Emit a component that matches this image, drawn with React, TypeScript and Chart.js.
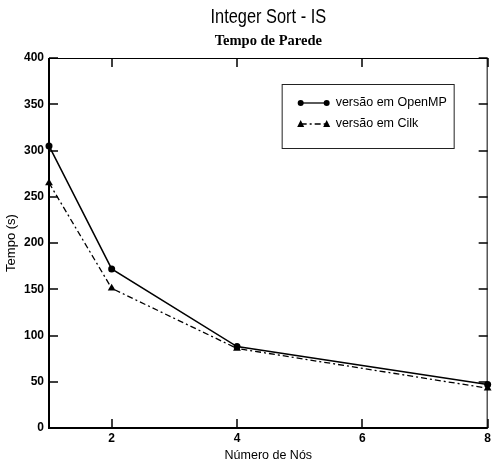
import React, { useEffect, useRef } from "react";
import { Chart, registerables } from "chart.js";

Chart.register(...registerables);

const nodes = [1, 2, 4, 8];
const openmpTimes = [305, 172, 88, 47];
const cilkTimes = [265, 151, 86, 43];
const xTickValues = [2, 4, 6, 8];
const yTickValues = [0, 50, 100, 150, 200, 250, 300, 350, 400];
const seriesLabels = ["versão em OpenMP", "versão em Cilk"];
const titleText = "Integer Sort - IS";
const subtitleText = "Tempo de Parede";
const xTitle = "Número de Nós";
const yTitle = "Tempo (s)";

const SANS = "'Liberation Sans', Arial, sans-serif";
const SERIF = "'Liberation Serif', 'Times New Roman', serif";

const framePlugin = {
  id: "frameAndLegend",
  afterDatasetsDraw(chart: any) {
    const ctx = chart.ctx;
    const { left, right, top, bottom } = chart.chartArea;
    const xs = chart.scales.x;
    const ys = chart.scales.y;
    ctx.save();
    ctx.strokeStyle = "#000";
    // frame
    ctx.lineWidth = 1;
    ctx.beginPath();
    ctx.moveTo(left, top + 0.5);
    ctx.lineTo(right, top + 0.5);
    ctx.moveTo(right - 0.5, top);
    ctx.lineTo(right - 0.5, bottom);
    ctx.stroke();
    ctx.lineWidth = 2;
    ctx.beginPath();
    ctx.moveTo(left, top);
    ctx.lineTo(left, bottom);
    ctx.lineTo(right, bottom);
    ctx.stroke();
    // ticks
    ctx.lineWidth = 1.5;
    ctx.beginPath();
    for (const v of xTickValues) {
      const px = Math.round(xs.getPixelForValue(v));
      ctx.moveTo(px, bottom);
      ctx.lineTo(px, bottom - 9);
      ctx.moveTo(px, top);
      ctx.lineTo(px, top + 9);
    }
    for (const v of yTickValues) {
      const py = Math.round(ys.getPixelForValue(v));
      ctx.moveTo(left, py);
      ctx.lineTo(left + 9, py);
      ctx.moveTo(right, py);
      ctx.lineTo(right - 9, py);
    }
    ctx.stroke();

    // titles
    const cx = (left + right) / 2;
    ctx.fillStyle = "#000";
    ctx.textAlign = "center";
    ctx.textBaseline = "middle";
    ctx.save();
    ctx.translate(cx, 17);
    ctx.scale(0.78, 1);
    ctx.font = `21px ${SANS}`;
    ctx.fillText(titleText, 0, 0);
    ctx.restore();
    ctx.font = `bold 14.5px ${SERIF}`;
    ctx.fillText(subtitleText, cx, 41);

    // legend
    const bx = right - 206;
    const by = top + 26;
    const bw = 172;
    const bh = 64;
    ctx.lineWidth = 1;
    ctx.strokeStyle = "#222";
    ctx.strokeRect(bx + 0.5, by + 0.5, bw, bh);
    const rows = [by + 19, by + 40];
    chart.data.datasets.forEach((ds: any, i: number) => {
      const y = rows[i];
      const x0 = bx + 19;
      const x1 = bx + 45;
      ctx.strokeStyle = "#000";
      ctx.lineWidth = 1.3;
      ctx.setLineDash(ds.borderDash || []);
      ctx.beginPath();
      ctx.moveTo(x0, y);
      ctx.lineTo(x1, y);
      ctx.stroke();
      ctx.setLineDash([]);
      ctx.fillStyle = "#000";
      for (const x of [x0, x1]) {
        if (ds.pointStyle === "triangle") {
          ctx.beginPath();
          ctx.moveTo(x, y - 4);
          ctx.lineTo(x + 3.5, y + 3);
          ctx.lineTo(x - 3.5, y + 3);
          ctx.closePath();
          ctx.fill();
        } else {
          ctx.beginPath();
          ctx.arc(x, y, 3, 0, Math.PI * 2);
          ctx.fill();
        }
      }
      ctx.textAlign = "left";
      ctx.font = `12.5px ${SANS}`;
      ctx.fillText(ds.label, bx + 54, y);
    });
    ctx.restore();
  },
};

export default function App() {
  const ref = useRef<HTMLCanvasElement | null>(null);
  useEffect(() => {
    if (!ref.current) return;
    const chart = new Chart(ref.current, {
      type: "line",
      data: {
        datasets: [
          {
            label: seriesLabels[0],
            data: nodes.map((n, i) => ({ x: n, y: openmpTimes[i] })),
            borderColor: "#000",
            backgroundColor: "#000",
            borderWidth: 1.5,
            pointStyle: "circle",
            pointRadius: 3.5,
            pointBackgroundColor: "#000",
            pointBorderWidth: 0,
            tension: 0,
            clip: false as any,
          },
          {
            label: seriesLabels[1],
            data: nodes.map((n, i) => ({ x: n, y: cilkTimes[i] })),
            borderColor: "#000",
            backgroundColor: "#000",
            borderWidth: 1.3,
            borderDash: [6, 3, 2, 3],
            pointStyle: "triangle",
            pointRadius: 4.5,
            pointBackgroundColor: "#000",
            pointBorderWidth: 0,
            tension: 0,
            clip: false as any,
          },
        ],
      },
      options: {
        animation: false,
        responsive: true,
        maintainAspectRatio: false,
        layout: { padding: { top: 58, right: 5, bottom: 0, left: 0 } },
        plugins: {
          legend: { display: false },
          title: { display: false },
          tooltip: { enabled: false },
        },
        scales: {
          x: {
            type: "linear",
            min: 1,
            max: 8,
            grid: { display: false, drawTicks: false },
            border: { display: false },
            afterBuildTicks: (axis: any) => {
              axis.ticks = xTickValues.map((v) => ({ value: v }));
            },
            afterFit: (axis: any) => {
              axis.height = 37;
            },
            ticks: {
              padding: 3,
              color: "#000",
              font: { family: SANS, size: 12, weight: "bold" },
              maxRotation: 0,
            },
            title: {
              display: true,
              text: xTitle,
              color: "#000",
              font: { family: SANS, size: 12.5 },
              padding: { top: 0, bottom: 2 },
            },
          },
          y: {
            type: "linear",
            min: 0,
            max: 400,
            grid: { display: false, drawTicks: false },
            border: { display: false },
            afterBuildTicks: (axis: any) => {
              axis.ticks = yTickValues.map((v) => ({ value: v }));
            },
            afterFit: (axis: any) => {
              axis.width = 49;
            },
            ticks: {
              padding: 5,
              color: "#000",
              font: { family: SANS, size: 12, weight: "bold" },
            },
            title: {
              display: true,
              text: yTitle,
              color: "#000",
              font: { family: SANS, size: 13 },
              padding: { top: 4, bottom: 0 },
            },
          },
        },
      },
      plugins: [framePlugin],
    });
    return () => chart.destroy();
  }, []);
  return (
    <div style={{ position: "fixed", left: 0, top: 0, width: 494, height: 465, background: "#fff" }}>
      <canvas ref={ref} />
    </div>
  );
}
